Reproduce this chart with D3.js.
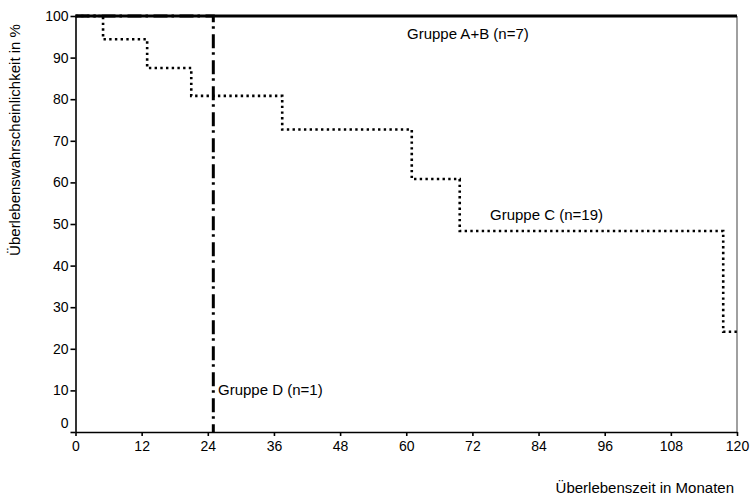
<!DOCTYPE html>
<html>
<head>
<meta charset="utf-8">
<script src="https://cdn.jsdelivr.net/npm/d3@7"></script>
<style>
  body { margin: 0; background: #fff; }
  text { font-family: "Liberation Sans", Arial, sans-serif; }
</style>
</head>
<body>
<div id="chart"></div>
<script>
// Kaplan-Meier curves, values
var monthsAB = [0, 120]
var survAB = [100, 100]

var monthsC = [0, 5, 13, 21, 37.5, 61, 69.7, 117.5, 120]
var survC = [100, 94.4, 87.5, 80.8, 72.7, 60.8, 48.3, 24.1, 24.1]

var monthsD = [0, 25]
var survD = [100, 0]

var xTicks = [0, 12, 24, 36, 48, 60, 72, 84, 96, 108, 120]
var yTicks = [0, 10, 20, 30, 40, 50, 60, 70, 80, 90, 100]

var groupLabels = ["Gruppe A+B (n=7)", "Gruppe C (n=19)", "Gruppe D (n=1)"]

var width = 751, height = 499

var svg = d3.select("#chart")
    .append("svg")
    .attr("width", width)
    .attr("height", height)

var x = d3.scaleLinear().domain([0, 120]).range([75.5, 737])
var y = d3.scaleLinear().domain([0, 100]).range([432, 16])

// right frame line
svg.append("line")
    .attr("x1", x(120)).attr("x2", x(120))
    .attr("y1", y(100)).attr("y2", y(0))
    .attr("stroke", "#808080")
    .attr("stroke-width", 1.5)

// axes
var xAxis = svg.append("g")
    .attr("transform", "translate(0," + y(0) + ")")
    .call(d3.axisBottom(x).tickValues(xTicks).tickSize(4).tickPadding(5).tickSizeOuter(0))
var yAxis = svg.append("g")
    .attr("transform", "translate(" + x(0) + ",0)")
    .call(d3.axisLeft(y).tickValues(yTicks).tickSize(5).tickPadding(2).tickSizeOuter(0))

svg.selectAll(".domain").attr("stroke", "#000").attr("stroke-width", 1.6)
svg.selectAll(".tick line").attr("stroke", "#000").attr("stroke-width", 1.6)
svg.selectAll(".tick text").attr("fill", "#000").style("font-size", "14px")
// the 0 label on the y axis sits a little above the axis
yAxis.selectAll(".tick text").filter(function (d) { return d === 0 }).attr("dy", "-0.3em")

var line = d3.line()
    .x(function (d) { return x(d[0]) })
    .y(function (d) { return y(d[1]) })
    .curve(d3.curveStepAfter)

// Gruppe A+B: solid
svg.append("path")
    .datum(d3.zip(monthsAB, survAB))
    .attr("d", line)
    .attr("fill", "none")
    .attr("stroke", "#000")
    .attr("stroke-width", 3)

// Gruppe C: dotted
svg.append("path")
    .datum(d3.zip(monthsC, survC))
    .attr("d", line)
    .attr("fill", "none")
    .attr("stroke", "#000")
    .attr("stroke-width", 2.6)
    .attr("stroke-dasharray", "2.4,3.3")

// Gruppe D: dash-dot
svg.append("path")
    .datum(d3.zip(monthsD, survD))
    .attr("d", line)
    .attr("fill", "none")
    .attr("stroke", "#000")
    .attr("stroke-width", 3)
    .attr("stroke-dasharray", "14,4,2.5,5.5")

// group labels
var labels = svg.append("g").style("font-size", "15px").attr("fill", "#000")
labels.append("text").attr("x", 407).attr("y", 39).text(groupLabels[0])
labels.append("text").attr("x", 490).attr("y", 220).text(groupLabels[1])
labels.append("text").attr("x", 218).attr("y", 395).text(groupLabels[2])

// axis titles
svg.append("text")
    .attr("x", 734).attr("y", 493)
    .attr("text-anchor", "end")
    .style("font-size", "15px")
    .text("Überlebenszeit in Monaten")
svg.append("text")
    .attr("transform", "translate(20,140) rotate(-90)")
    .attr("text-anchor", "middle")
    .style("font-size", "15px")
    .text("Überlebenswahrscheinlichkeit in %")
</script>
</body>
</html>
